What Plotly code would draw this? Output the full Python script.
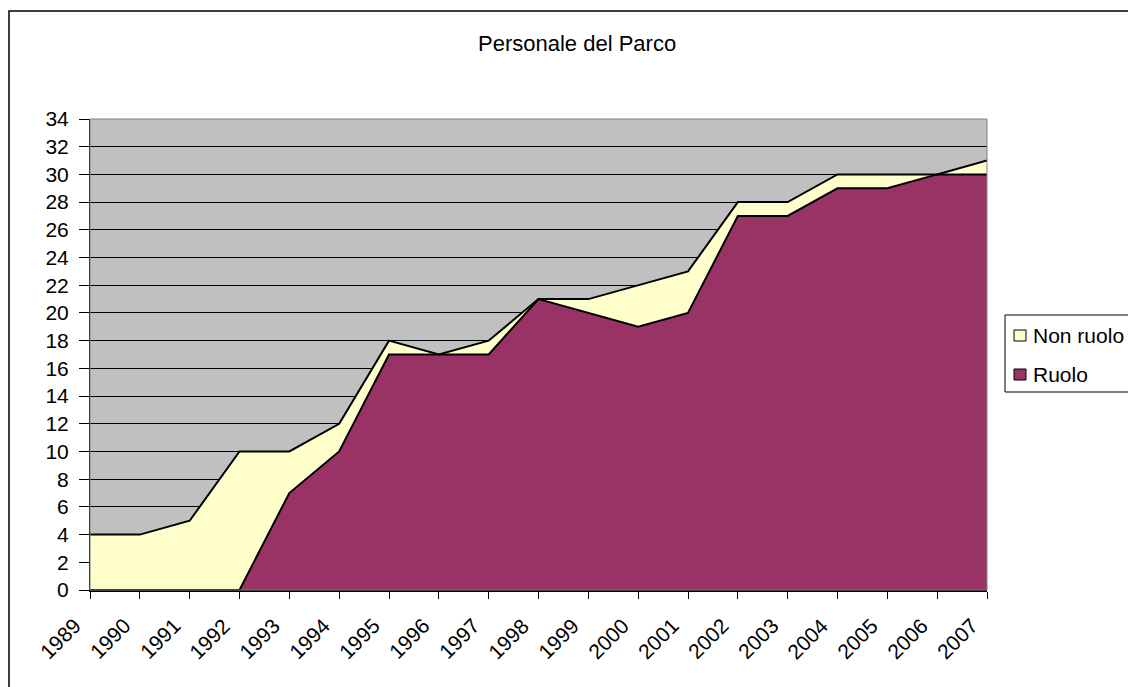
import plotly.graph_objects as go

# ---- data ----
years = list(range(1989, 2008))
ruolo = [0, 0, 0, 0, 7, 10, 17, 17, 17, 21, 20, 19, 20, 27, 27, 29, 29, 30, 30]
non_ruolo = [4, 4, 5, 10, 3, 2, 1, 0, 1, 0, 1, 3, 3, 1, 1, 1, 1, 0, 1]
y_ticks = list(range(0, 35, 2))
year_labels = [str(y) for y in years]
title_text = "Personale del Parco"
legend_names = ["Non ruolo", "Ruolo"]
colors = {"Ruolo": "#993366", "Non ruolo": "#FFFFCC"}

# ---- layout geometry (pixels) ----
W, H = 1128, 687
PL, PR, PT, PB = 90, 987, 119, 590
FONT = "Liberation Sans, Arial, sans-serif"


def px_x(x):
    return (x - PL) / (PR - PL)


def px_y(y):
    return (PB - y) / (PB - PT)


fig = go.Figure()
fig.add_trace(go.Scatter(
    x=years, y=ruolo, name="Ruolo", stackgroup="one", mode="lines",
    line=dict(color="black", width=2), fillcolor=colors["Ruolo"],
))
fig.add_trace(go.Scatter(
    x=years, y=non_ruolo, name="Non ruolo", stackgroup="one", mode="lines",
    line=dict(color="black", width=2), fillcolor=colors["Non ruolo"],
))

shapes = [
    # outer chart border
    dict(type="rect", xref="paper", yref="paper",
         x0=px_x(9), x1=px_x(1140), y0=px_y(700), y1=px_y(11),
         line=dict(color="black", width=1.5), fillcolor="rgba(0,0,0,0)", layer="above"),
    # plot area border
    dict(type="rect", xref="paper", yref="paper",
         x0=0, x1=1, y0=0, y1=1,
         line=dict(color="#808080", width=1), fillcolor="rgba(0,0,0,0)", layer="above"),
    # legend box
    dict(type="rect", xref="paper", yref="paper",
         x0=px_x(1005), x1=px_x(1140), y0=px_y(392), y1=px_y(315),
         line=dict(color="black", width=1), fillcolor="white", layer="above"),
]
annotations = [
    dict(text=title_text, xref="paper", yref="paper",
         x=px_x(577), y=px_y(43), xanchor="center", yanchor="middle",
         showarrow=False, font=dict(family=FONT, size=22, color="black")),
]
legend_rows = [335, 374]
for name, yc in zip(legend_names, legend_rows):
    shapes.append(dict(type="rect", xref="paper", yref="paper",
                       x0=px_x(1014), x1=px_x(1026), y0=px_y(yc + 6), y1=px_y(yc - 5),
                       line=dict(color="black", width=1), fillcolor=colors[name], layer="above"))
    annotations.append(dict(text=name, xref="paper", yref="paper",
                            x=px_x(1031), y=px_y(yc), xanchor="left", yanchor="middle",
                            showarrow=False, font=dict(family=FONT, size=21, color="black")))

# rotated x tick labels (placed at each category via the x axis scale)
for yr, lab in zip(years, year_labels):
    annotations.append(dict(text=lab, xref="x", yref="paper", x=yr, y=0,
                            xanchor="right", yanchor="top", xshift=-2, yshift=-21,
                            textangle=-45, showarrow=False,
                            font=dict(family=FONT, size=21, color="black")))

fig.update_layout(
    width=W, height=H,
    margin=dict(l=PL, r=W - PR, t=PT, b=H - PB, autoexpand=False),
    paper_bgcolor="white",
    plot_bgcolor="#C0C0C0",
    showlegend=False,
    shapes=shapes,
    annotations=annotations,
    font=dict(family=FONT, size=21, color="black"),
)
fig.update_xaxes(
    range=[years[0], years[-1]],
    tickvals=years, showticklabels=False,
    ticks="outside", ticklen=7, tickcolor="black",
    showline=True, linecolor="black", linewidth=2,
    showgrid=False, zeroline=False, automargin=False,
)
fig.update_yaxes(
    range=[0, 34], tickvals=y_ticks,
    ticks="outside", ticklen=10, tickcolor="black",
    showline=True, linecolor="black", linewidth=1,
    showgrid=True, gridcolor="black", gridwidth=1,
    zeroline=False, automargin=False, ticklabelstandoff=6,
    tickfont=dict(family=FONT, size=21, color="black"),
)

fig.write_html("out.html", post_script="document.body.style.margin='0';",
               config={"displayModeBar": False})
